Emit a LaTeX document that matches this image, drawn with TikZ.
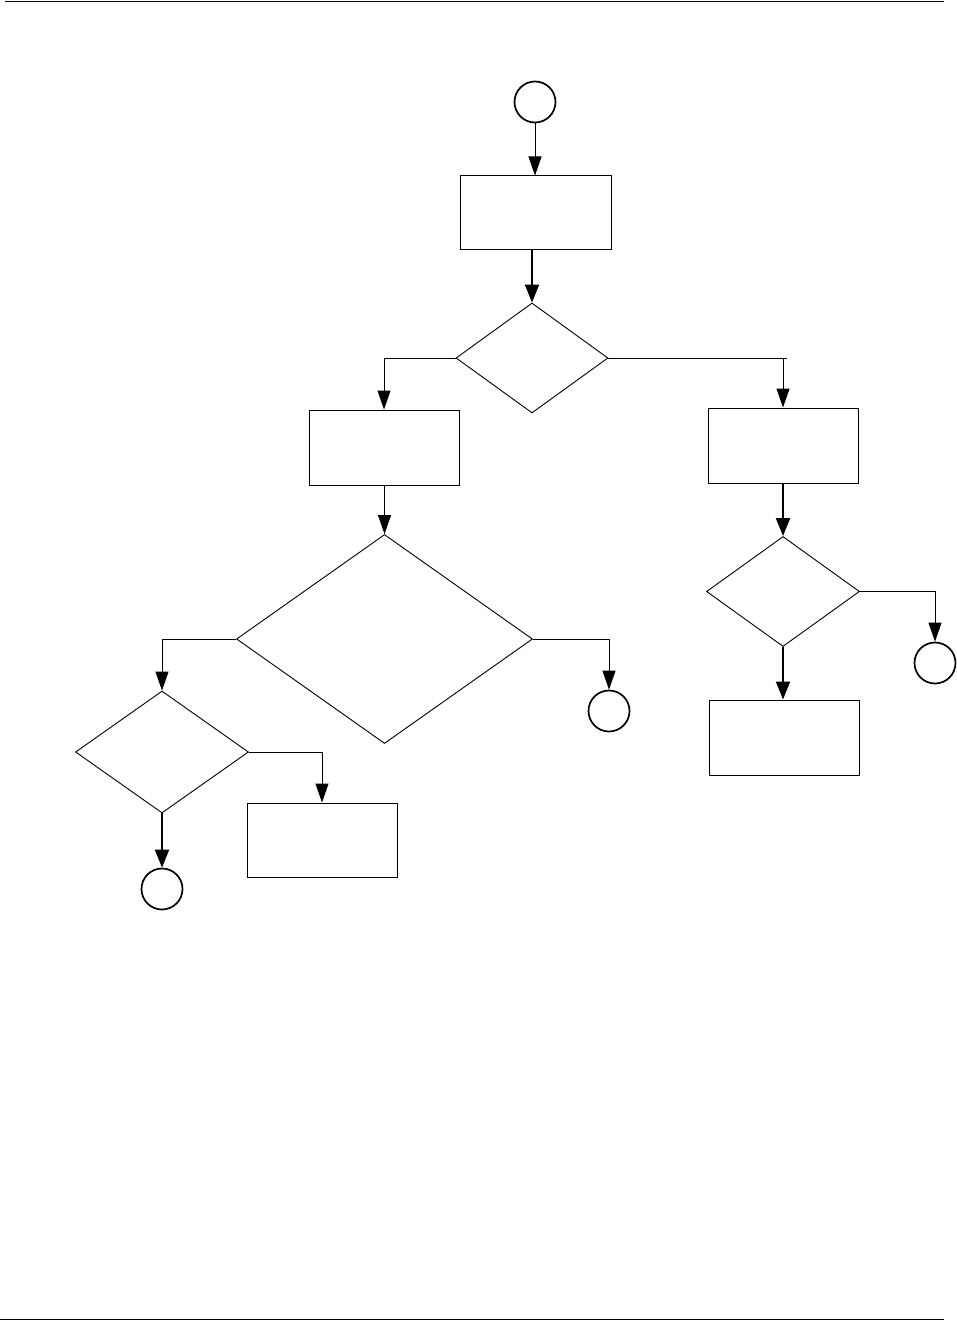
\documentclass[tikz,border=0pt]{standalone}
\usetikzlibrary{shapes.geometric,arrows.meta}
\tikzset{
  proc/.style={draw, rectangle, line width=1pt, inner sep=0pt, minimum width=150pt, minimum height=75pt},
  dec/.style={draw, diamond, line width=0.9pt, inner sep=0pt},
  term/.style={draw, circle, line width=1.7pt, inner sep=0pt, minimum size=41pt},
  arr/.style={line width=1pt, -{Triangle[length=19pt,width=13pt]}},
  thickarr/.style={line width=2pt, -{Triangle[length=18pt,width=14pt]}},
  conn/.style={line width=1pt},
  rule/.style={line width=1.6pt}
}
\begin{document}
\begin{tikzpicture}[x=1pt,y=-1pt]
\useasboundingbox (0,0) rectangle (957,1321);
% page rules
\coordinate (tl) at (5,1.5);
\coordinate (tr) at (944,1.5);
\coordinate (bl) at (0,1319.5);
\coordinate (br) at (944,1319.5);
\draw[rule] (tl) -- (tr);
\draw[rule] (bl) -- (br);
% nodes
\node[term] (c1) at (535,102) {};
\node[proc, minimum width=151pt, minimum height=74pt] (b1) at (535.5,213) {};
\node[dec, minimum width=152pt, minimum height=110pt] (d1) at (532,358) {};
\node[proc] (b2) at (384,447.5) {};
\node[proc] (b3) at (783,445.5) {};
\node[dec, minimum width=296pt, minimum height=209pt] (d2) at (384.5,639) {};
\node[term] (c2) at (609,711) {};
\node[dec, minimum width=173pt, minimum height=122pt] (d4) at (162,752) {};
\node[proc, minimum height=74pt] (b5) at (322,840) {};
\node[term] (c3) at (162,889) {};
\node[dec, minimum width=153pt, minimum height=110pt] (d3) at (783,591.5) {};
\node[proc] (b4) at (784,737.5) {};
\node[term] (c4) at (935,663) {};
% connectors
\draw[arr] (c1) -- (c1 |- b1.north);
\draw[thickarr] (d1.north |- b1.south) -- (d1.north);
\draw[arr] (d1.west) -| (b2.north);
\draw[conn] (d1.east) -- ([xshift=4pt]b3.north |- d1.east);
\draw[arr] (d1.east) -| (b3.north);
\draw[arr] (d2.north |- b2.south) -- (d2.north);
\draw[arr] (d2.west) -| (d4.north);
\draw[arr] (d2.east) -| (c2.north);
\draw[arr] (d4.east) -| (b5.north);
\draw[thickarr] (d4.south) -- (c3.north);
\draw[thickarr] (b3.south) -- (d3.north);
\draw[thickarr] (d3.south) -- (d3.south |- b4.north);
\draw[arr] (d3.east) -| (c4.north);
\end{tikzpicture}
\end{document}
